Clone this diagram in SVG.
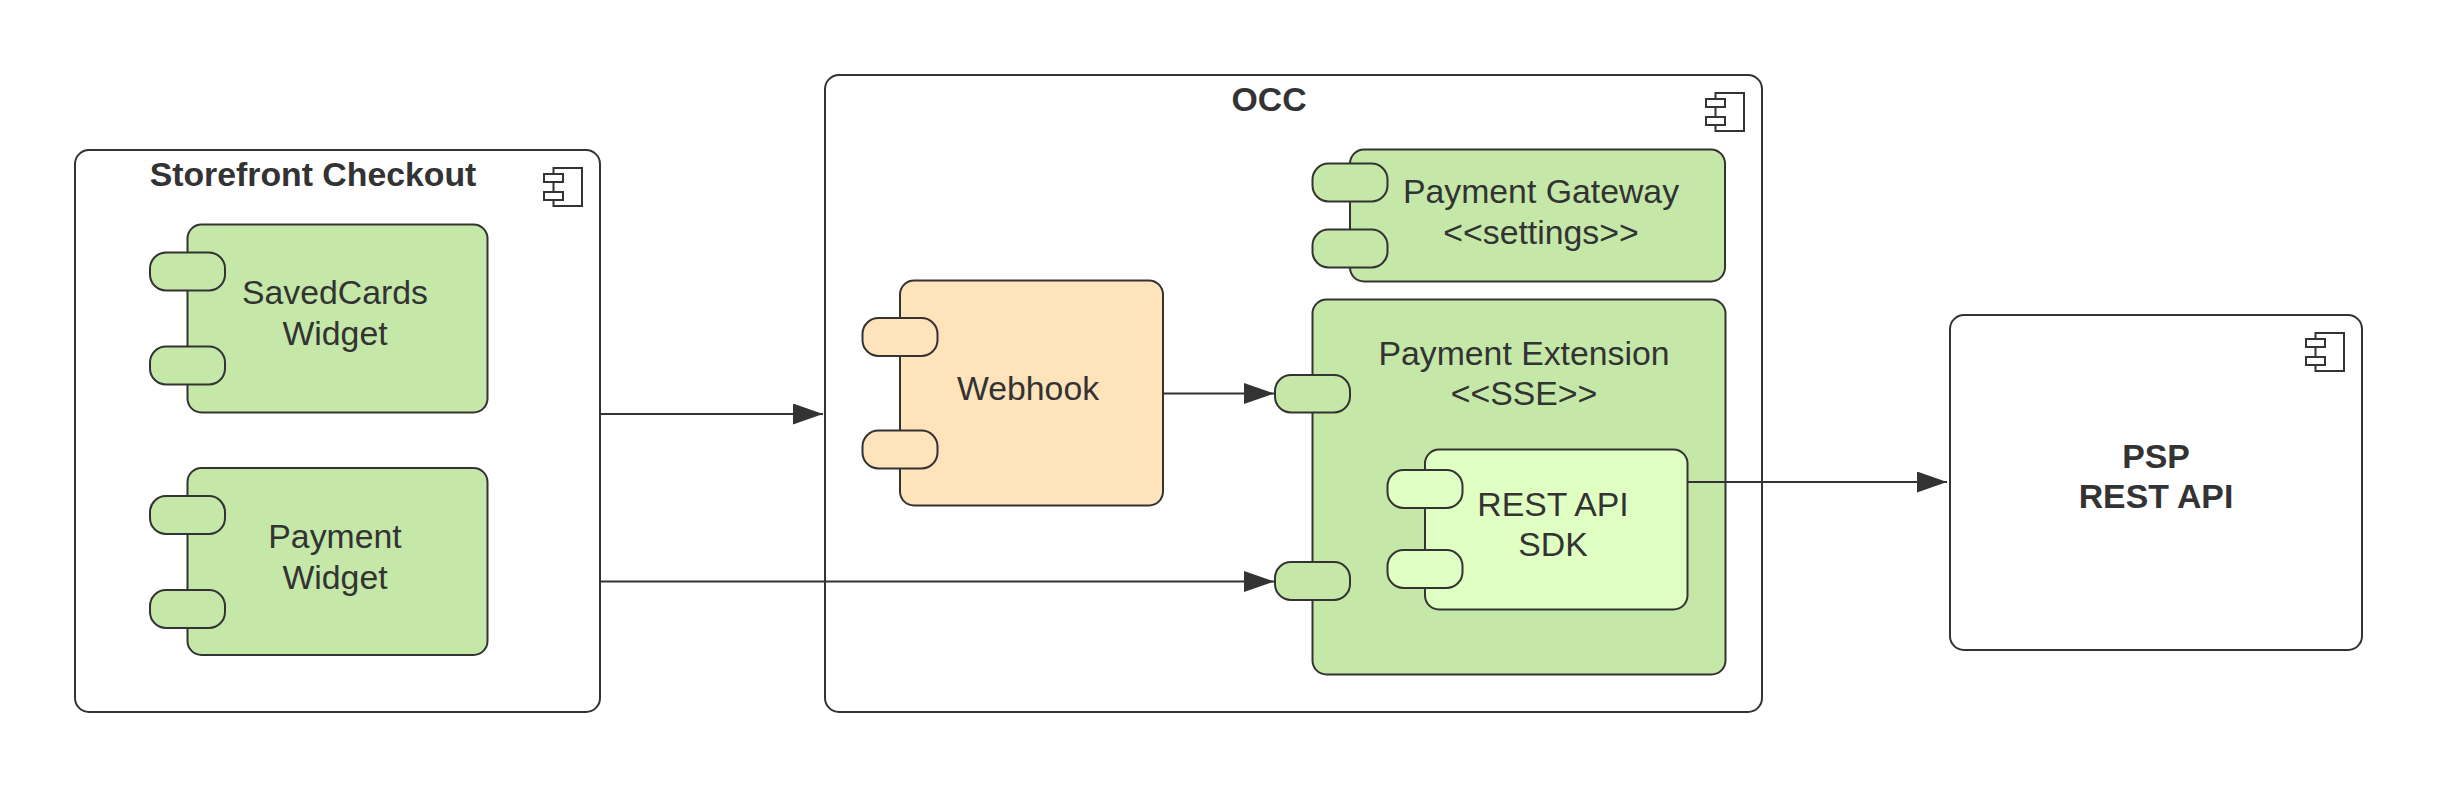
<svg xmlns="http://www.w3.org/2000/svg" width="2438" height="791" viewBox="0 0 2438 791">
<style>
.f{stroke:#333;stroke-width:2;}
.w{fill:#fff}.g{fill:#c5e8a9}.l{fill:#dfffc3}.o{fill:#ffe3bb}
.n{fill:none;stroke:#333;stroke-width:2}
.t{rx:16px}
text{font-family:"Liberation Sans",Arial,sans-serif;font-size:33.8px;fill:#333;text-anchor:middle}
.b{font-weight:bold}
.c{fill:none;stroke:#333;stroke-width:2}
</style>
<defs>
<marker id="a" markerUnits="userSpaceOnUse" markerWidth="32" markerHeight="22" refX="30" refY="10.5" orient="auto"><path d="M0 0L30 10.5L0 21Z" fill="#333"/></marker>
<g id="icon"><path class="n" d="M9.500 0H38V38H9.500Z"/><rect class="w f" x="0" y="6" width="19" height="8"/><rect class="w f" x="0" y="24" width="19" height="8"/></g>
</defs>
<rect width="2438" height="791" fill="#fff"/>
<g id="storefront"><rect class="w f" x="75" y="150" width="525" height="562" rx="14"/><text class="b" x="313" y="186">Storefront Checkout</text><use href="#icon" x="544" y="168"/></g>
<g id="occ"><rect class="w f" x="825" y="75" width="937" height="637" rx="14"/><text class="b" x="1269" y="111">OCC</text><use href="#icon" x="1706" y="93"/></g>
<g id="psp"><rect class="w f" x="1950" y="315" width="412" height="335" rx="14"/><text class="b" x="2156" y="468">PSP</text><text class="b" x="2156" y="508">REST API</text><use href="#icon" x="2306" y="333"/></g>
<g id="savedcards"><rect class="g f" x="187.500" y="224.500" width="300" height="188" rx="14"/><rect class="g f t" x="150" y="252.500" width="75" height="38"/><rect class="g f t" x="150" y="346.500" width="75" height="38"/><text x="335" y="304">SavedCards</text><text x="335" y="345">Widget</text></g>
<g id="payment-widget"><rect class="g f" x="187.500" y="468" width="300" height="187" rx="14"/><rect class="g f t" x="150" y="496" width="75" height="38"/><rect class="g f t" x="150" y="590" width="75" height="38"/><text x="335" y="548">Payment</text><text x="335" y="589">Widget</text></g>
<g id="webhook"><rect class="o f" x="900" y="280.500" width="263" height="225" rx="14"/><rect class="o f t" x="862.500" y="318" width="75" height="38"/><rect class="o f t" x="862.500" y="430.500" width="75" height="38"/><text x="1028" y="400">Webhook</text></g>
<g id="gateway"><rect class="g f" x="1350" y="149.500" width="375" height="132" rx="14"/><rect class="g f t" x="1312.500" y="163.500" width="75" height="38"/><rect class="g f t" x="1312.500" y="229.500" width="75" height="38"/><text x="1541" y="203">Payment Gateway</text><text x="1541" y="244">&lt;&lt;settings&gt;&gt;</text></g>
<g id="extension"><rect class="g f" x="1312.500" y="299.500" width="413" height="375" rx="14"/><rect class="g f t" x="1275" y="375" width="75" height="37.500"/><rect class="g f t" x="1275" y="562" width="75" height="38"/><text x="1524" y="365">Payment Extension</text><text x="1524" y="405">&lt;&lt;SSE&gt;&gt;</text></g>
<g id="sdk"><rect class="l f" x="1425" y="449.500" width="262.500" height="160" rx="14"/><rect class="l f t" x="1387.500" y="470" width="75" height="38"/><rect class="l f t" x="1387.500" y="550" width="75" height="38"/><text x="1553" y="516">REST API</text><text x="1553" y="556">SDK</text></g>
<g id="connectors"><path class="c" marker-end="url(#a)" d="M600 414H823"/><path class="c" marker-end="url(#a)" d="M600 581.500H1274"/><path class="c" marker-end="url(#a)" d="M1163 393.500H1274"/><path class="c" marker-end="url(#a)" d="M1687.500 482H1947"/></g>
</svg>
